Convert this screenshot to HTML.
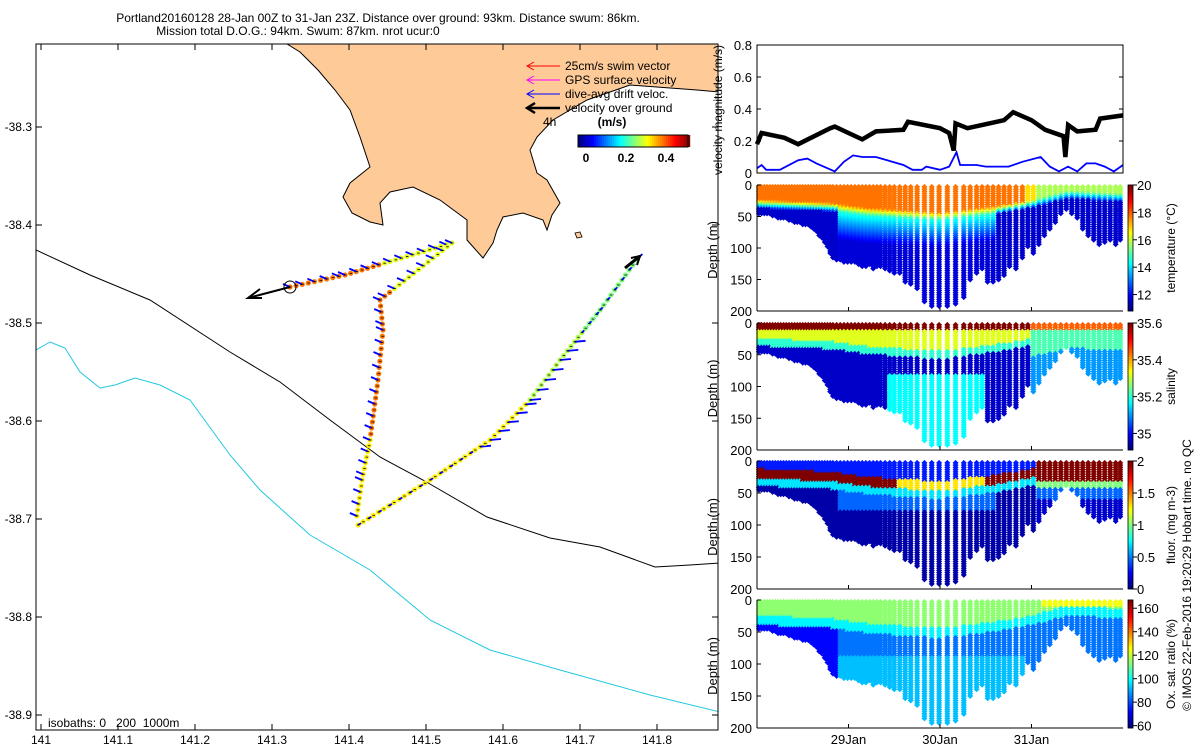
<!DOCTYPE html>
<html><head><meta charset="utf-8"><style>
body{margin:0;background:#fff}
svg{display:block;font-family:"Liberation Sans",sans-serif}
</style></head><body>
<svg id="s" width="1200" height="750" viewBox="0 0 1200 750" xmlns="http://www.w3.org/2000/svg">
<g font-size="12" text-anchor="middle">
<text x="378" y="22">Portland20160128 28-Jan 00Z to 31-Jan 23Z. Distance over ground: 93km. Distance swum: 86km.</text>
<text x="298" y="35">Mission total D.O.G.: 94km. Swum: 87km. nrot ucur:0</text>
</g>
<g>
<clipPath id="mc"><rect x="36" y="44" width="682" height="686"/></clipPath>
<g clip-path="url(#mc)">
<path fill="#fdca98" stroke="#000" stroke-width="1" d="M287,44 L300,52 L318,70 L335,90 L350,110 L360,137 L370,167 L350,183 L343,197 L352,213 L370,222 L383,225 L380,203 L390,192 L413,187 L440,200 L467,220 L467,240 L483,258 L493,243 L497,230 L503,217 L523,213 L543,220 L547,230 L552,215 L560,203 L547,180 L537,173 L530,150 L537,137 L553,120 L587,100 L630,85 L697,90 L720,92 L720,40 Z"/>
<path fill="#fdca98" stroke="#000" stroke-width="0.8" d="M575,233 L580,232 L582,237 L577,238 Z"/>
<polyline fill="none" stroke="#000" stroke-width="1" points="36,250 90,275 150,300 230,352 280,382 330,420 380,457 423,480 487,517 550,538 600,547 655,567 690,565 720,563"/>
<polyline fill="none" stroke="#22c8e0" stroke-width="1" points="36,350 50,342 65,348 80,372 100,388 115,385 135,378 160,385 190,400 230,455 260,490 310,535 370,570 430,620 490,650 560,670 650,695 720,712"/>
<g id="track"></g>
<circle cx="290" cy="287" r="6" fill="none" stroke="#000"/>
<g stroke="#000" stroke-width="2" fill="none">
<line x1="290" y1="287" x2="248" y2="298"/><polyline points="260,289 248,298 262,298"/>
<line x1="625" y1="268" x2="640" y2="256" stroke-width="3"/><polyline points="631,258 640,256 637,265"/>
</g>
</g>
<rect x="36" y="44" width="682" height="686" fill="none" stroke="#000"/>
<g id="maxes" font-size="12"></g>
<text x="48" y="727" font-size="12" xml:space="preserve">isobaths: 0   200  1000m</text>
<g font-size="12">
<g stroke="#f00"><line x1="527" y1="66" x2="560" y2="66"/><polyline points="534,62 527,66 534,70" fill="none"/></g><text x="565" y="70">25cm/s swim vector</text>
<g stroke="#f0f"><line x1="527" y1="80" x2="560" y2="80"/><polyline points="534,76 527,80 534,84" fill="none"/></g><text x="565" y="84">GPS surface velocity</text>
<g stroke="#00f"><line x1="527" y1="94" x2="560" y2="94"/><polyline points="534,90 527,94 534,98" fill="none"/></g><text x="565" y="98">dive-avg drift veloc.</text>
<g stroke="#000" stroke-width="2.5"><line x1="527" y1="108" x2="560" y2="108"/><polyline points="535,103 527,108 535,113" fill="none"/></g><text x="565" y="112">velocity over ground</text>
<text x="543" y="126">4h</text>
<text x="612" y="126" font-weight="bold" text-anchor="middle">(m/s)</text>
</g>
<g id="mapcb"></g>
</g>
<g id="vel"></g>
<g id="secs"></g>
<text transform="translate(1191,575) rotate(-90)" text-anchor="middle" font-size="12">© IMOS 22-Feb-2016 19:20:29 Hobart time. no QC</text>
</svg>
<script>
const NS="http://www.w3.org/2000/svg";
function mk(t,a,p){const e=document.createElementNS(NS,t);for(const k in a)e.setAttribute(k,a[k]);(p||document.getElementById('s')).appendChild(e);return e;}
function jet(v){v=Math.max(0,Math.min(1,v));const c=x=>Math.round(255*Math.max(0,Math.min(1,1.5-Math.abs(x))));return `rgb(${c(4*v-3)},${c(4*v-2)},${c(4*v-1)})`;}
function interp(xs,ys,x){if(x<=xs[0])return ys[0];for(let i=1;i<xs.length;i++)if(x<=xs[i]){const f=(x-xs[i-1])/(xs[i]-xs[i-1]);return ys[i-1]+f*(ys[i]-ys[i-1]);}return ys[ys.length-1];}

// ---- data ----
const lonTicks=[141,141.1,141.2,141.3,141.4,141.5,141.6,141.7,141.8];
const latTicks=[-38.3,-38.4,-38.5,-38.6,-38.7,-38.8,-38.9];
const velT=[0,0.05,0.3,0.45,0.8,0.85,1.0,1.15,1.3,1.6,1.65,2.0,2.1,2.15,2.17,2.3,2.7,2.8,3.0,3.15,3.35,3.37,3.4,3.5,3.7,3.75,4.0];
const velGround=[0.18,0.25,0.22,0.18,0.28,0.29,0.25,0.21,0.26,0.27,0.32,0.28,0.25,0.14,0.31,0.28,0.33,0.38,0.33,0.27,0.23,0.1,0.3,0.26,0.27,0.34,0.36];
const driftT=[0,0.05,0.1,0.25,0.45,0.55,0.65,0.85,0.95,1.05,1.15,1.3,1.6,1.7,1.8,1.85,2.0,2.1,2.18,2.22,2.4,2.5,2.75,2.9,3.1,3.2,3.3,3.4,3.5,3.6,3.7,3.8,3.9,4.0];
const driftV=[0.03,0.05,0.02,0.02,0.08,0.09,0.06,0.01,0.07,0.11,0.1,0.1,0.05,0.02,0.02,0.04,0.02,0.04,0.13,0.05,0.05,0.04,0.04,0.07,0.1,0.04,0.01,0.04,0.01,0.06,0.06,0.04,0.01,0.05];
const diveT=[0.02,0.05,0.08,0.11,0.14,0.17,0.20,0.23,0.26,0.29,0.32,0.35,0.38,0.41,0.44,0.47,0.50,0.53,0.56,0.59,0.62,0.65,0.68,0.71,0.74,0.77,0.80,0.83,0.87,0.91,0.95,0.99,1.03,1.07,1.11,1.15,1.19,1.23,1.27,1.31,1.35,1.40,1.45,1.50,1.56,1.62,1.68,1.75,1.83,1.91,1.99,2.08,2.17,2.26,2.33,2.40,2.46,2.52,2.58,2.64,2.70,2.76,2.83,2.90,2.96,3.02,3.08,3.14,3.20,3.26,3.32,3.38,3.44,3.50,3.56,3.62,3.68,3.74,3.80,3.86,3.92,3.97];
const diveDepth=[45,45,47,48,48,50,50,52,52,55,55,57,58,60,60,62,63,65,65,68,70,75,80,85,92,100,110,118,120,120,125,125,122,125,128,130,130,128,135,132,130,135,138,140,142,155,158,165,185,192,192,192,190,180,150,140,135,155,155,150,145,130,135,118,100,110,95,80,70,60,45,40,45,55,70,80,90,95,92,90,95,90];
const mldT=[0,0.8,1.2,2.0,2.6,3.0,3.4,4.0];
const mldZ=[25,30,38,45,35,25,10,15];
const dayTicks=[1,2,3];
const dayLabels=['29Jan','30Jan','31Jan'];

// ---- map axes ----
const lx=l=>41+(l-141)*770, ly=l=>127+(-38.3-l)*980;
const ma=document.getElementById('maxes');
lonTicks.forEach(l=>{const x=lx(l);mk('line',{x1:x,y1:730,x2:x,y2:724,stroke:'#000'},ma);mk('line',{x1:x,y1:44,x2:x,y2:50,stroke:'#000'},ma);
 const t=mk('text',{x:x,y:744,'text-anchor':'middle'},ma);t.textContent=String(l);
 
 });
latTicks.forEach(l=>{const y=ly(l);mk('line',{x1:36,y1:y,x2:42,y2:y,stroke:'#000'},ma);mk('line',{x1:718,y1:y,x2:712,y2:y,stroke:'#000'},ma);
 const t=mk('text',{x:32,y:y+4,'text-anchor':'end'},ma);t.textContent=l.toFixed(1);
 
 });
const mc=document.getElementById('mapcb');
for(let i=0;i<56;i++){mk('rect',{x:578+i*2,y:135,width:2.2,height:12,fill:jet(i/55)},mc);}
mk('rect',{x:578,y:135,width:110,height:12,fill:'none',stroke:'#000'},mc);
[[0,586],[0.2,626],[0.4,666]].forEach(([v,x])=>{const t=mk('text',{x:x,y:162,'text-anchor':'middle','font-size':12,'font-weight':'bold'},mc);t.textContent=String(v);
 
 });
const segs=[[[290,287],[345,275],[452,243]],[[452,243],[380,300],[383,330],[378,380],[370,440],[362,480],[356,522]],[[358,525],[430,480],[490,440],[530,400],[560,360],[600,310],[640,255]]];
const tr=document.getElementById('track');
segs.forEach((pts,si)=>{for(let k=1;k<pts.length;k++){const [x0,y0]=pts[k-1],[x1,y1]=pts[k];const L=Math.hypot(x1-x0,y1-y0);const n=Math.max(1,Math.round(L/6));
 for(let j=0;j<n;j++){const f=j/n,x=x0+f*(x1-x0),y=y0+f*(y1-y0);let v;
  if(si==0)v=x>380?0.6:0.76;
  else if(si==1)v=y<290?0.6:(y<440?0.76:0.64);
  else v=y>400?0.64:(y>330?0.55:0.5);
  mk('circle',{cx:x,cy:y,r:2.6,fill:jet(v)},tr);
  if(j%2==0){let dx=-7,dy=-3;if(si==2&&y<450&&y>340){dx=11;dy=-1;} if(si==2&&y<=340){dx=6;dy=-6;} if(si==2&&y>=450){dx=7;dy=-4;}
   mk('line',{x1:x,y1:y,x2:x+dx,y2:y+dy,stroke:'#00f','stroke-width':1.8},tr);}
  mk('line',{x1:x-1,y1:y,x2:x+1.5,y2:y,stroke:'#000','stroke-width':0.8},tr);}}});

// ---- velocity panel ----
const X0=757,X1=1123,tx=t=>X0+t*(X1-X0)/4;
const vel=document.getElementById('vel');
const vy=v=>173-v*160;
mk('polyline',{points:velT.map((t,i)=>tx(t)+','+vy(velGround[i])).join(' '),fill:'none',stroke:'#000','stroke-width':4.5,},vel);
mk('polyline',{points:driftT.map((t,i)=>tx(t)+','+vy(driftV[i])).join(' '),fill:'none',stroke:'#00f','stroke-width':1.8,},vel);
mk('rect',{x:X0,y:45,width:X1-X0,height:128,fill:'none',stroke:'#000'},vel);
[0,0.2,0.4,0.6,0.8].forEach(v=>{const y=vy(v);mk('line',{x1:X0,y1:y,x2:X0+4,y2:y,stroke:'#000'},vel);mk('line',{x1:X1,y1:y,x2:X1-4,y2:y,stroke:'#000'},vel);
 const t=mk('text',{x:752,y:y+5,'text-anchor':'end','font-size':13},vel);t.textContent=String(v);
 
 });
const vt=mk('text',{transform:'translate(722,110) rotate(-90)','text-anchor':'middle','font-size':12},vel);vt.textContent='velocity magnitude (m/s)';



// ---- sections ----
const mld=t=>interp(mldT,mldZ,t);
const panels=[
 {name:'temperature',top:185,bot:311,lo:10.8,hi:20,ticks:[12,14,16,18,20],label:'temperature (°C)',
  f:(t,z)=>{const m=mld(t);const s=t>3.05?15.8:(t>2.9?16.8:17.8);const mid=t>0.9&&t<2.6;
   if(z<m)return s;if(z<m+12)return s-(s-(mid?14.5:12.4))*(z-m)/12;
   if(mid){return z<m+55?14.5-2.8*(z-m-12)/43:11.6;}return 11.5;}},
 {name:'salinity',top:323,bot:450,lo:34.91,hi:35.6,ticks:[35,35.2,35.4,35.6],label:'salinity',
  f:(t,z)=>{const m=mld(t);if(t>3.0){if(z<12)return 35.45;if(z<m+30)return 35.22;return 35.1;}
   if(z<12)return 35.6;if(z<m)return 35.32;if(z<m+12)return 35.2;if(t>1.4&&t<2.5&&z>80)return 35.17;return 34.96;}},
 {name:'fluor',top:461,bot:589,lo:0,hi:2,ticks:[0,0.5,1,1.5,2],label:'fluor. (mg m-3)',
  f:(t,z)=>{const m=mld(t);if(t>3.05){if(z<32)return 2;if(z<42)return 1;return z<60?0.45:0.15;}
   if(z<m-12)return 0.3;if(z<m+3)return (t>1.5&&t<2.5)?1.3:2;if(z<m+15)return 0.7;return (t>0.9&&t<2.6&&z<80)?0.45:0.08;}},
 {name:'oxygen',top:600,bot:728,lo:58,hi:167,ticks:[60,80,100,120,140,160],label:'Ox. sat. ratio (%)',
  f:(t,z)=>{const m=mld(t);if(t>3.1&&z<12)return 125;if(z<m)return 114;if(z<m+15)return 98;
   if(t<0.9)return 72;if(t>2.9)return 84;return z>90?92:84;}}
];
const secs=document.getElementById('secs');
panels.forEach(p=>{
 const g=mk('g',{},secs);
 
 
 const zy=z=>p.top+z*(p.bot-p.top)/200;
 const pts=mk('g',{},g);
 diveT.forEach((t,i)=>{const x=tx(t);for(let z=3;z<=diveDepth[i];z+=3.5){const y=zy(z);const v=(p.f(t,z)-p.lo)/(p.hi-p.lo);
  const d=mk('path',{d:`M${x-3},${y}L${x},${y-3}L${x+3},${y}L${x},${y+3}Z`,fill:jet(v)},pts);
  
  }});
 mk('line',{x1:X0,y1:p.bot,x2:X1,y2:p.bot,stroke:'#000'},g);
 mk('line',{x1:X0,y1:p.top,x2:X0,y2:p.bot,stroke:'#000'},g);
 [0,50,100,150,200].forEach(z=>{const y=zy(z);mk('line',{x1:X0,y1:y,x2:X0+4,y2:y,stroke:'#000'},g);
  const t=mk('text',{x:752,y:y+5,'text-anchor':'end','font-size':13},g);t.textContent=String(z);
  
  });
 dayTicks.forEach(d=>{mk('line',{x1:tx(d),y1:p.bot,x2:tx(d),y2:p.bot-4,stroke:'#000'},g);});
 const yt=mk('text',{transform:`translate(717,${(p.top+p.bot)/2+2}) rotate(-90)`,'text-anchor':'middle','font-size':13},g);yt.textContent='Depth (m)';
 
 
 const cy=v=>p.bot-(v-p.lo)/(p.hi-p.lo)*(p.bot-p.top);
 for(let i=0;i<60;i++){const v0=p.lo+(p.hi-p.lo)*i/60;mk('rect',{x:1128,y:cy(v0)-(p.bot-p.top)/60-0.3,width:5,height:(p.bot-p.top)/60+0.6,fill:jet(i/59)},g);}
 mk('rect',{x:1128,y:p.top,width:5,height:p.bot-p.top,fill:'none',stroke:'#000','stroke-width':0.8},g);
 p.ticks.forEach(v=>{const y=cy(v);mk('line',{x1:1133,y1:y,x2:1137,y2:y,stroke:'#000'},g);
  const t=mk('text',{x:1137,y:y+5,'font-size':13},g);t.textContent=String(v);
  
  });
 const cl=mk('text',{transform:`translate(1175,${(p.top+p.bot)/2}) rotate(-90)`,'text-anchor':'middle','font-size':12},g);cl.textContent=p.label;
 
 
});
dayTicks.forEach((d,i)=>{const t=mk('text',{x:tx(d),y:744,'text-anchor':'middle','font-size':13});t.textContent=dayLabels[i];
 
 });
</script>
</body></html>
